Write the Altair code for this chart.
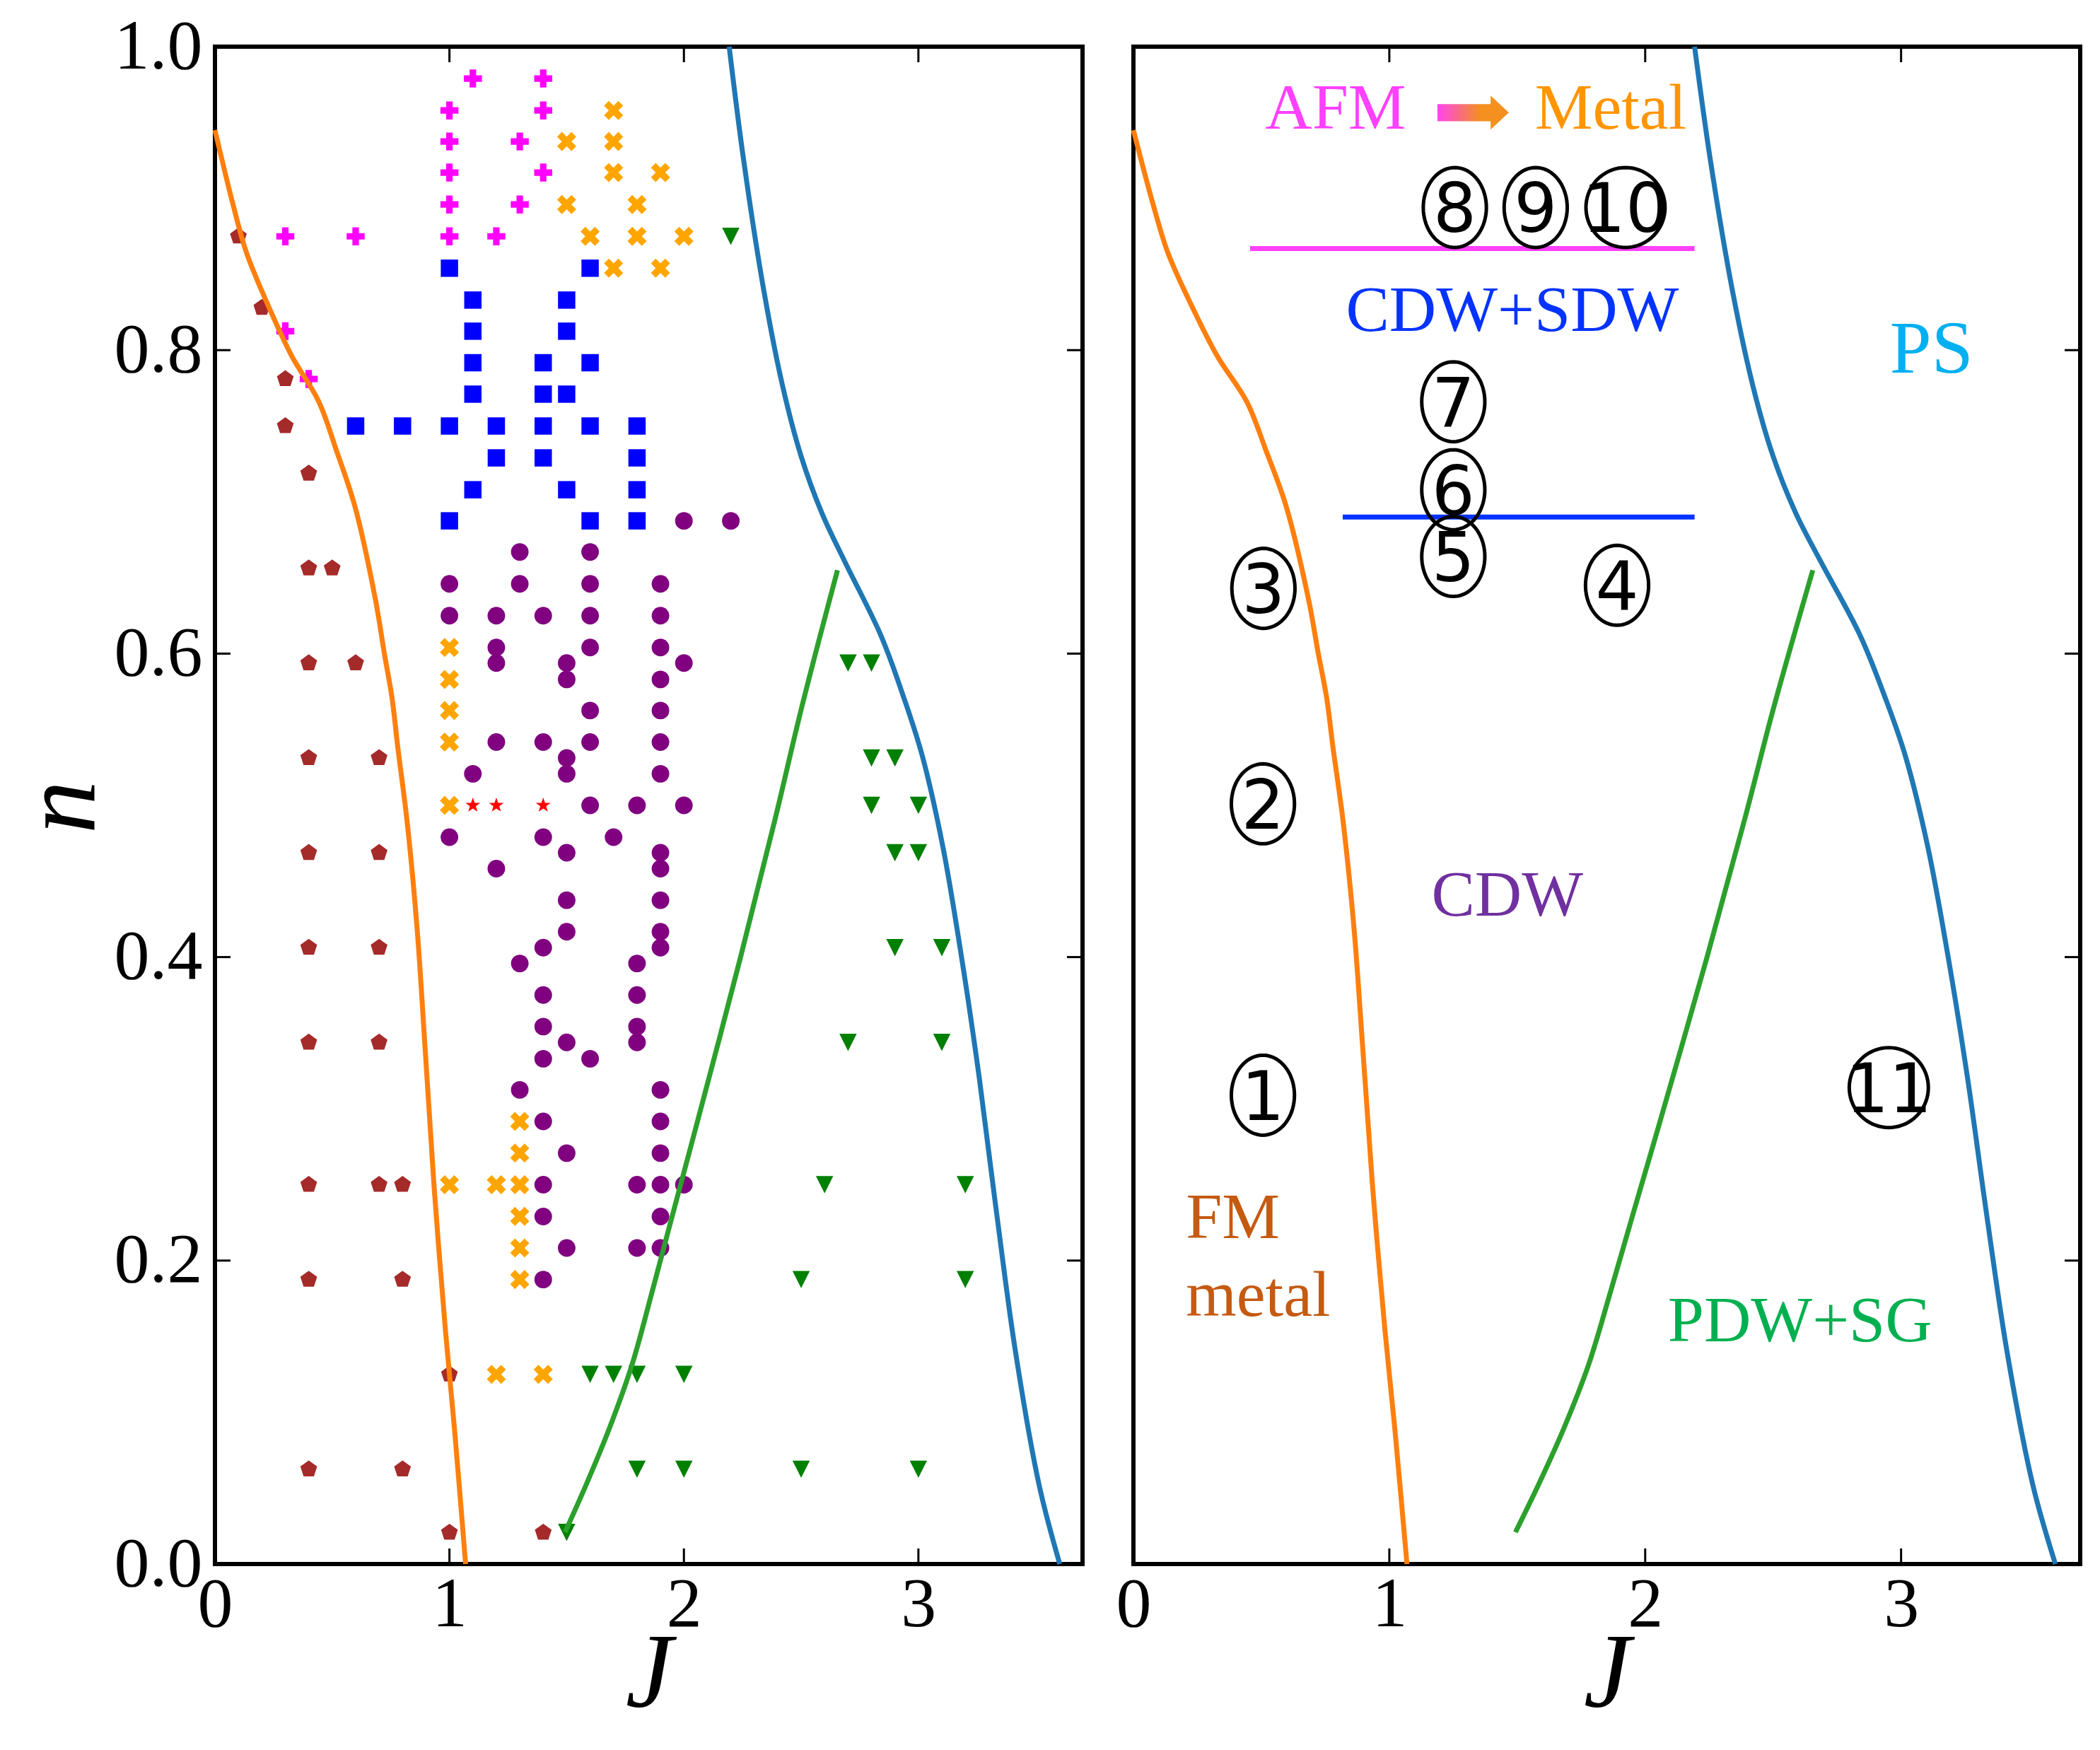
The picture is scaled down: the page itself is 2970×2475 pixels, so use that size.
import math
import altair as alt
import pandas as pd

# ---------------- data ----------------
# left panel scatter: J, n
plus_J = [1.1, 1.4, 1.0, 1.4, 1.0, 1.3, 1.0, 1.4, 1.0, 1.3, 0.3, 0.6, 1.0, 1.2, 0.3, 0.4]
plus_n = [0.979, 0.979, 0.958, 0.958, 0.9375, 0.9375, 0.917, 0.917, 0.896, 0.896,
          0.875, 0.875, 0.875, 0.875, 0.8125, 0.781]

x_J = [1.7, 1.5, 1.7, 1.7, 1.9, 1.5, 1.8, 1.6, 1.8, 2.0, 1.7, 1.9,
       1.0, 1.0, 1.0, 1.0, 1.0,
       1.3, 1.3, 1.0, 1.2, 1.3, 1.3, 1.3, 1.3, 1.2, 1.4]
x_n = [0.958, 0.9375, 0.9375, 0.917, 0.917, 0.896, 0.896, 0.875, 0.875, 0.875, 0.854, 0.854,
       0.604, 0.583, 0.5625, 0.5417, 0.5,
       0.2917, 0.2708, 0.25, 0.25, 0.25, 0.2292, 0.2083, 0.1875, 0.125, 0.125]

sq_J = [1.0, 1.6, 1.1, 1.5, 1.1, 1.5, 1.1, 1.4, 1.6, 1.1, 1.4, 1.5,
        0.6, 0.8, 1.0, 1.2, 1.4, 1.6, 1.8, 1.2, 1.4, 1.8, 1.1, 1.5, 1.8, 1.0, 1.6, 1.8]
sq_n = [0.854, 0.854, 0.833, 0.833, 0.8125, 0.8125, 0.7917, 0.7917, 0.7917, 0.771, 0.771, 0.771,
        0.75, 0.75, 0.75, 0.75, 0.75, 0.75, 0.75, 0.729, 0.729, 0.729, 0.708, 0.708, 0.708,
        0.6875, 0.6875, 0.6875]

ci_J = [2.0, 2.2, 1.3, 1.6, 1.0, 1.3, 1.6, 1.9, 1.0, 1.2, 1.4, 1.6, 1.9, 1.2, 1.6, 1.9,
        1.2, 1.5, 2.0, 1.5, 1.9, 1.6, 1.9, 1.2, 1.4, 1.6, 1.9, 1.5, 1.1, 1.5, 1.9,
        1.6, 1.8, 2.0, 1.0, 1.4, 1.7, 1.5, 1.9, 1.2, 1.9, 1.5, 1.9, 1.5, 1.9, 1.4, 1.9,
        1.3, 1.8, 1.4, 1.8, 1.4, 1.8, 1.5, 1.8, 1.4, 1.6, 1.3, 1.9, 1.4, 1.9, 1.5, 1.9,
        1.4, 1.8, 1.9, 2.0, 1.4, 1.9, 1.5, 1.8, 1.9, 1.4]
ci_n = [0.6875, 0.6875, 0.667, 0.667, 0.646, 0.646, 0.646, 0.646, 0.625, 0.625, 0.625, 0.625, 0.625,
        0.604, 0.604, 0.604, 0.59375, 0.59375, 0.59375, 0.583, 0.583, 0.5625, 0.5625,
        0.5417, 0.5417, 0.5417, 0.5417, 0.53125, 0.5208, 0.5208, 0.5208,
        0.5, 0.5, 0.5, 0.479, 0.479, 0.479, 0.46875, 0.46875, 0.4583, 0.4583, 0.4375, 0.4375,
        0.4167, 0.4167, 0.40625, 0.40625, 0.3958, 0.3958, 0.375, 0.375, 0.3542, 0.3542,
        0.34375, 0.34375, 0.333, 0.333, 0.3125, 0.3125, 0.2917, 0.2917, 0.2708, 0.2708,
        0.25, 0.25, 0.25, 0.25, 0.229, 0.229, 0.2083, 0.2083, 0.2083, 0.1875]

pe_J = [0.1, 0.2, 0.3, 0.3, 0.4, 0.4, 0.5, 0.4, 0.6, 0.4, 0.7, 0.4, 0.7, 0.4, 0.7, 0.4, 0.7,
        0.4, 0.7, 0.8, 0.4, 0.8, 1.0, 0.4, 0.8, 1.0, 1.4]
pe_n = [0.875, 0.828, 0.781, 0.75, 0.71875, 0.65625, 0.65625, 0.59375, 0.59375, 0.53125, 0.53125,
        0.46875, 0.46875, 0.40625, 0.40625, 0.34375, 0.34375, 0.25, 0.25, 0.25, 0.1875, 0.1875,
        0.125, 0.0625, 0.0625, 0.0208, 0.0208]

tr_J = [2.2, 2.7, 2.8, 2.8, 2.9, 2.8, 3.0, 2.9, 3.0, 2.9, 3.1, 2.7, 3.1, 2.6, 3.2, 2.5, 3.2,
        1.6, 1.7, 1.8, 2.0, 1.8, 2.0, 2.5, 3.0, 1.5]
tr_n = [0.875, 0.59375, 0.59375, 0.53125, 0.53125, 0.5, 0.5, 0.46875, 0.46875, 0.40625, 0.40625,
        0.34375, 0.34375, 0.25, 0.25, 0.1875, 0.1875, 0.125, 0.125, 0.125, 0.125,
        0.0625, 0.0625, 0.0625, 0.0625, 0.0208]

st_J = [1.1, 1.2, 1.4]
st_n = [0.5, 0.5, 0.5]

# phase boundaries
orange_J = [1.069, 1.021, 0.983, 0.934, 0.897, 0.862, 0.819, 0.78, 0.755, 0.7225, 0.684,
            0.597, 0.52, 0.443, 0.328, 0.231, 0.135, 0.077, 0.0]
orange_n = [0.0, 0.09, 0.154, 0.25, 0.338, 0.419, 0.49, 0.538, 0.571, 0.6, 0.636,
            0.697, 0.733, 0.766, 0.796, 0.828, 0.864, 0.896, 0.945]
blue_J = [2.193, 2.254, 2.34, 2.42, 2.50, 2.59, 2.685, 2.84, 2.94, 3.016, 3.104, 3.185, 3.26,
          3.333, 3.414, 3.515, 3.603]
blue_n = [1.0, 0.926, 0.84, 0.777, 0.73, 0.692, 0.661, 0.612, 0.57, 0.533, 0.473, 0.399, 0.32,
          0.232, 0.14, 0.052, 0.0]
green_J = [1.493, 1.585, 1.681, 1.778, 1.862, 1.946, 2.031, 2.24, 2.389, 2.503, 2.655]
green_n = [0.021, 0.053, 0.089, 0.131, 0.178, 0.227, 0.276, 0.399, 0.491, 0.565, 0.655]

# right panel annotations
hline_J = [[0.456, 2.193], [0.818, 2.193]]
hline_n = [0.867, 0.69]
hline_c = ["#FF40FF", "#0433FF"]

num_lab = ["1", "2", "3", "4", "5", "6", "7", "8", "9", "10", "11"]
num_J = [0.506, 0.506, 0.508, 1.89, 1.25, 1.25, 1.25, 1.256, 1.572, 1.923, 2.952]
num_n = [0.309, 0.501, 0.643, 0.645, 0.664, 0.708, 0.766, 0.894, 0.894, 0.894, 0.314]

lab_text = ["AFM", "Metal", "CDW+SDW", "PS", "CDW", "PDW+SG"]
lab_J = [0.79, 1.865, 1.481, 3.119, 1.461, 2.605]
lab_n = [0.946, 0.946, 0.8125, 0.785, 0.4273, 0.1466]
lab_c = ["#FF40FF", "#FF9500", "#0433FF", "#00B0F0", "#7030A0", "#00B050"]
lab_fs = [92, 92, 92, 106, 92, 92]

fm_text = ["FM", "metal"]
fm_J = [0.205, 0.205]
fm_n = [0.215, 0.1637]

arrow_J = [1.3275]
arrow_n = [0.9565]

x_ticks = [1, 2, 3]
y_ticks = [0.2, 0.4, 0.6, 0.8]

# ---------------- geometry / style ----------------
W1, W2, H = 1227, 1339, 2146
TICK = 22
SERIF = "Liberation Serif"
LW = 7

PENTA = "M0,-1L0.951,-0.309L0.588,0.809L-0.588,0.809L-0.951,-0.309Z"
PLUS = ("M-0.36,-1L0.36,-1L0.36,-0.36L1,-0.36L1,0.36L0.36,0.36L0.36,1L-0.36,1"
        "L-0.36,0.36L-1,0.36L-1,-0.36L-0.36,-0.36Z")
XSHAPE = ("M0.471,-0.943L0.943,-0.471L0.471,0L0.943,0.471L0.471,0.943L0,0.471L-0.471,0.943"
          "L-0.943,0.471L-0.471,0L-0.943,-0.471L-0.471,-0.943L0,-0.471Z")
TRI = "M-1,-1L1,-1L0,1Z"


def star_path(r_in=0.4):
    pts = []
    for k in range(10):
        r = 1.0 if k % 2 == 0 else r_in
        a = -math.pi / 2 + k * math.pi / 5
        pts.append(f"{r*math.cos(a):.3f},{r*math.sin(a):.3f}")
    return "M" + "L".join(pts) + "Z"


def ellipse_path(rx, ry=1.0, m=72):
    pts = []
    for k in range(m):
        a = 2 * math.pi * k / m
        pts.append(f"{rx*math.cos(a):.4f},{ry*math.sin(a):.4f}")
    return "M" + "L".join(pts) + "Z"


ARROW = "M-1,-0.24L0.49,-0.24L0.49,-0.475L1,0L0.49,0.475L0.49,0.24L-1,0.24Z"

xs = alt.Scale(domain=[0, 3.7], nice=False, zero=False)
ys = alt.Scale(domain=[0, 1], nice=False, zero=False)


def X(w):
    return alt.X("J:Q", scale=xs, axis=alt.Axis(
        values=[0, 1, 2, 3], format="d", title="J", titleX=w / 2, titleY=201,
        titleAlign="center", titleBaseline="alphabetic", titleAngle=0,
        labelPadding=8, labelFlush=False))


def Y_left():
    return alt.Y("n:Q", scale=ys, axis=alt.Axis(
        values=[0, 0.2, 0.4, 0.6, 0.8, 1.0], format=".1f", title="n",
        titleX=-172, titleY=1075, titleAngle=270, titleAlign="center",
        titleBaseline="alphabetic", labelPadding=18, labelFlush=False,
        labelBaseline="middle"))


def Y_right():
    return alt.Y("n:Q", scale=ys, axis=None)


def pts(J, n, shape, size, color, Yf, w):
    df = pd.DataFrame({"J": J, "n": n})
    return alt.Chart(df).mark_point(shape=shape, size=size, filled=True, color=color,
                                    opacity=1, strokeWidth=0).encode(x=X(w), y=Yf())


def curve(J, n, color, Yf, w):
    df = pd.DataFrame({"J": J, "n": n, "i": list(range(len(J)))})
    return alt.Chart(df).mark_line(color=color, strokeWidth=LW, interpolate="catmull-rom").encode(
        x=X(w), y=Yf(), order="i:Q")


def ticks(Yf, w, left=True):
    dfx = pd.DataFrame({"J": x_ticks})
    dfy = pd.DataFrame({"n": y_ticks})
    out = [
        alt.Chart(dfx).mark_rule(color="black", strokeWidth=3).encode(
            x=X(w), y=alt.value(H), y2=alt.value(H - TICK)),
        alt.Chart(dfx).mark_rule(color="black", strokeWidth=3).encode(
            x=X(w), y=alt.value(0), y2=alt.value(TICK)),
        alt.Chart(dfy).mark_rule(color="black", strokeWidth=3).encode(
            y=Yf(), x=alt.value(w), x2=alt.value(w - TICK)),
    ]
    if left:
        out.append(alt.Chart(dfy).mark_rule(color="black", strokeWidth=3).encode(
            y=Yf(), x=alt.value(0), x2=alt.value(TICK)))
    return out


# ---------------- left panel ----------------
left_layers = [
    pts(pe_J, pe_n, PENTA, 620, "#A52A2A", Y_left, W1),
    pts(plus_J, plus_n, PLUS, 650, "#FF00FF", Y_left, W1),
    pts(x_J, x_n, XSHAPE, 820, "#FFA500", Y_left, W1),
    pts(sq_J, sq_n, "square", 600, "#0000FF", Y_left, W1),
    pts(ci_J, ci_n, "circle", 620, "#800080", Y_left, W1),
    pts(tr_J, tr_n, TRI, 600, "#008000", Y_left, W1),
    pts(st_J, st_n, star_path(), 480, "#FF0000", Y_left, W1),
    curve(orange_J, orange_n, "#FF7F0E", Y_left, W1),
    curve(blue_J, blue_n, "#1F77B4", Y_left, W1),
    curve(green_J, green_n, "#2CA02C", Y_left, W1),
] + ticks(Y_left, W1, left=True)
left = alt.layer(*left_layers).properties(width=W1, height=H)

# ---------------- right panel ----------------
right_layers = [
    curve(orange_J, orange_n, "#FF7F0E", Y_right, W2),
    curve(blue_J, blue_n, "#1F77B4", Y_right, W2),
    curve(green_J, green_n, "#2CA02C", Y_right, W2),
]
for k in range(len(hline_n)):
    dfh = pd.DataFrame({"J": hline_J[k], "n": [hline_n[k]] * 2})
    right_layers.append(alt.Chart(dfh).mark_line(color=hline_c[k], strokeWidth=7).encode(
        x=X(W2), y=Y_right()))

dfn = pd.DataFrame({"J": num_J, "n": num_n, "t": num_lab})
dfn["wide"] = dfn["t"].str.len() > 1
right_layers += [
    alt.Chart(dfn[~dfn["wide"]]).mark_point(shape=ellipse_path(0.79), size=12769, filled=False,
                                            color="black", strokeWidth=5, opacity=1).encode(
        x=X(W2), y=Y_right()),
    alt.Chart(dfn[dfn["wide"]]).mark_point(shape=ellipse_path(0.99), size=12769, filled=False,
                                           color="black", strokeWidth=5, opacity=1).encode(
        x=X(W2), y=Y_right()),
    alt.Chart(dfn).mark_text(font="DejaVu Sans", fontSize=96, color="black", align="center",
                             baseline="alphabetic", dy=35).encode(
        x=X(W2), y=Y_right(), text="t:N"),
]

for k in range(len(lab_text)):
    dfl = pd.DataFrame({"J": [lab_J[k]], "n": [lab_n[k]], "t": [lab_text[k]]})
    right_layers.append(alt.Chart(dfl).mark_text(
        font=SERIF, fontSize=int(lab_fs[k]), color=lab_c[k], align="center",
        baseline="alphabetic").encode(x=X(W2), y=Y_right(), text="t:N"))

dff = pd.DataFrame({"J": fm_J, "n": fm_n, "t": fm_text})
right_layers.append(alt.Chart(dff).mark_text(
    font=SERIF, fontSize=92, color="#C55A11", align="left", baseline="alphabetic").encode(
    x=X(W2), y=Y_right(), text="t:N"))

grad = alt.LinearGradient(gradient="linear", x1=0, x2=1, y1=0, y2=0, stops=[
    alt.GradientStop(offset=0, color="#FF44F0"),
    alt.GradientStop(offset=0.6, color="#F39020"),
    alt.GradientStop(offset=1, color="#F39020")])
dfa = pd.DataFrame({"J": arrow_J, "n": arrow_n})
right_layers.append(alt.Chart(dfa).mark_point(shape=ARROW, size=10201, filled=True, fill=grad,
                                              opacity=1, strokeWidth=0).encode(
    x=X(W2), y=Y_right()))

right_layers += ticks(Y_right, W2, left=False)
right = alt.layer(*right_layers).properties(width=W2, height=H)

chart = alt.hconcat(left, right, spacing=72, bounds="flush").properties(
    padding={"left": 1, "top": 5, "right": 5, "bottom": 5},
    background="white",
).configure_view(
    stroke="black", strokeWidth=6
).configure_axis(
    domain=False, ticks=False, grid=False,
    labelFont=SERIF, labelFontSize=100, labelColor="black",
    titleFont=SERIF, titleFontSize=150, titleFontStyle="italic", titleFontWeight="normal",
    titleColor="black",
)

chart.save("out.html", embed_options={"renderer": "svg", "actions": False})
